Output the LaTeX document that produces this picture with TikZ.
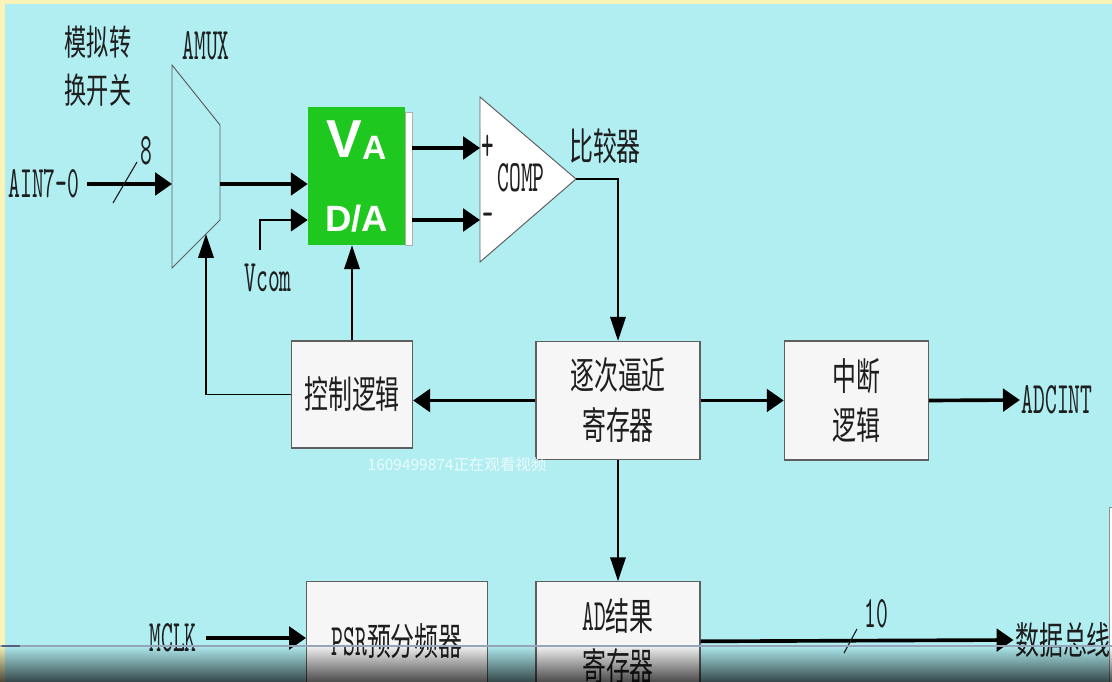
\documentclass[tikz,border=0pt]{standalone}
\usepackage{fontspec}
\usepackage{xcolor}
\usepackage{tikz}
\usetikzlibrary{arrows.meta, positioning, calc, fadings}
\newfontfamily\cjkfont{Noto Sans CJK SC}[FakeStretch=0.63]
\newfontfamily\wmfont{Noto Sans CJK SC}
\newfontfamily\codefont{lmmono10-regular}[Extension=.otf, FakeStretch=0.5]
\newfontfamily\dafont{Liberation Sans}
\definecolor{bgcyan}{RGB}{177,238,242}
\definecolor{rimyellow}{RGB}{250,244,184}
\definecolor{dagreen}{RGB}{30,200,30}
\definecolor{boxfill}{RGB}{246,246,246}
\definecolor{boxedge}{RGB}{95,95,95}
\definecolor{ink}{RGB}{30,30,30}
\definecolor{barblue}{RGB}{150,166,186}
\definecolor{barmark}{RGB}{85,95,130}
\newcommand{\zhfont}{\fontsize{27}{35.5}\selectfont\cjkfont}
\newcommand{\enfont}{\fontsize{32}{35.5}\selectfont\codefont}
\newcommand{\en}[1]{{\enfont #1}}

\begin{document}
\begin{tikzpicture}[x=0.025cm, y=-0.025cm,
  block/.style={draw=boxedge, line width=0.9pt, fill=boxfill, inner sep=0pt,
                align=center, text=ink, font=\zhfont},
  enlab/.style={inner sep=1pt, text=ink, font=\enfont},
  zhlab/.style={inner sep=1pt, align=center, text=ink, font=\zhfont},
  hbus/.style={line width=2.6pt, -{Triangle[length=12pt,width=16pt]}},
  hsig/.style={line width=1.8pt, -{Triangle[length=12pt,width=16pt]}},
  vsig/.style={line width=1.4pt, -{Triangle[length=17pt,width=11pt]}},
  outline/.style={draw=boxedge, line width=0.7pt},
  slash/.style={draw=ink, line width=0.8pt}]
  \clip (0,0) rectangle (1112,682);
  \fill[rimyellow] (0,0) rectangle (1112,682);
  \fill[bgcyan] (5,4) rectangle (1112,682);

  % analog multiplexer
  \coordinate (muxtl) at (172,65);
  \coordinate (muxtr) at (220,125);
  \coordinate (muxbr) at (220,220);
  \coordinate (muxbl) at (172,268);
  \coordinate (muxsel) at (206,234);
  \draw[outline] (muxtl) -- (muxtr) -- (muxbr) -- (muxbl) -- cycle;
  \node[zhlab, font=\fontsize{25}{34}\selectfont\cjkfont] (muxname) at (98,66) {模拟转\\换开关};
  \node[enlab] (amux) at (206,46) {AMUX};
  \node[enlab] (ain) at (44,184) {AIN7-0};
  \draw[hbus] ([xshift=0.15cm]ain.east) -- (muxtl |- ain.east);
  \draw[slash] (113,203) -- (137,162);
  \node[enlab] (width8) at (146,151) {8};

  % D/A converter
  \node[fill=dagreen, minimum width=2.425cm, minimum height=3.45cm, inner sep=0pt] (DA) at (356.5,176) {};
  \filldraw[fill=white, draw=boxedge!50, line width=0.4pt] (DA.south east) rectangle ($(DA.north east)+(7,6)$);
  \node[above=0.4cm, inner sep=0pt, text=white, font=\fontsize{38}{38}\selectfont\dafont\bfseries] (daV) at (DA.center)
    {V\raisebox{-1.5pt}{\fontsize{24}{24}\selectfont A}};
  \node[below=0.72cm, inner sep=0pt, text=white, font=\fontsize{26}{26}\selectfont\dafont\bfseries] (daname) at (DA.center) {D/A};
  \draw[hbus] (muxtr |- ain.east) -- (DA.west |- ain.east);

  % comparator
  \coordinate (cmptop) at (480,97);
  \coordinate (cmpbot) at (480,262);
  \coordinate (cmpout) at (576,179);
  \coordinate (cmpplus) at (480,148);
  \coordinate (cmpminus) at (480,220);
  \filldraw[outline, fill=white] (cmptop) -- (cmpout) -- (cmpbot) -- cycle;
  \node[enlab] (comp) at (521,178) {COMP};
  \node[enlab, font=\fontsize{34}{34}\selectfont\codefont] (plus) at (488,148) {+};
  \node[enlab, font=\fontsize{30}{30}\selectfont\codefont] (minus) at (488,220) {–};
  \node[zhlab] (cmpname) at (605,146) {比较器};
  \draw[hbus] ([xshift=0.175cm]DA.east |- cmpplus) -- (cmpplus);
  \draw[hbus] ([xshift=0.175cm]DA.east |- cmpminus) -- (cmpminus);

  \node[enlab] (vcom) at (268,278) {Vcom};
  \coordinate (vref) at (260,250);
  \draw[hsig] (vref) |- (DA.west |- cmpminus);

  % registers and logic
  \node[block, minimum width=4.1cm, minimum height=2.95cm] (SAR) at (618,400.5) {逐次逼近\\寄存器};
  \node[block, minimum width=3.025cm, minimum height=2.675cm] (ctrl) at (352,394.5) {控制逻辑};
  \node[block, minimum width=3.6cm, minimum height=2.975cm, right=2.075cm of SAR] (intr) {中断\\逻辑};
  \node[block, minimum width=4.1cm, minimum height=2.975cm, below=3.025cm of SAR] (ADR) {\en{AD}结果\\寄存器};
  \node[block, minimum width=4.525cm, minimum height=2.975cm, left=1.175cm of ADR] (PSR) {\en{PSR}预分频器};

  \draw[vsig] (cmpout) -| (SAR.north);
  \draw[hbus] (SAR.west) -- (SAR.west -| ctrl.east);
  \draw[vsig] (ctrl.north) -- (ctrl.north |- DA.south);
  \draw[vsig] (ctrl.west) -| (muxsel);
  \draw[hbus] (SAR.east) -- (intr.west);
  \node[enlab] (adcint) at (1057,400) {ADCINT};
  \draw[hbus] (intr.east) -- (adcint.west);
  \draw[vsig] (SAR.south) -- (ADR.north);

  \node[enlab] (mclk) at (173,638) {MCLK};
  \draw[hbus] ([xshift=0.2cm]mclk.east) -- (PSR.west |- mclk.east);
  \node[zhlab] (bus) at (1063,640) {数据总线};
  \draw[hbus] (ADR.east) -- (bus.west);
  \draw[slash] (844,653) -- (857,629);
  \node[enlab] (width10) at (876,614) {10};

  \node[text=white, opacity=0.75, inner sep=0pt, font=\fontsize{11}{11}\selectfont\wmfont] (wm) at (457,465) {1609499874正在观看视频};

  % player overlay
  \filldraw[fill=white, draw=boxedge!70, line width=0.6pt] (1109,507) rectangle (1120,690);
  \fill[black, path fading=north, opacity=0.7] (0,645) rectangle (1112,682);
  \draw[barblue, line width=2pt] (0,646) -- (1112,646);
  \draw[barmark, line width=2pt] (2,646) -- (20,646);
\end{tikzpicture}
\end{document}
